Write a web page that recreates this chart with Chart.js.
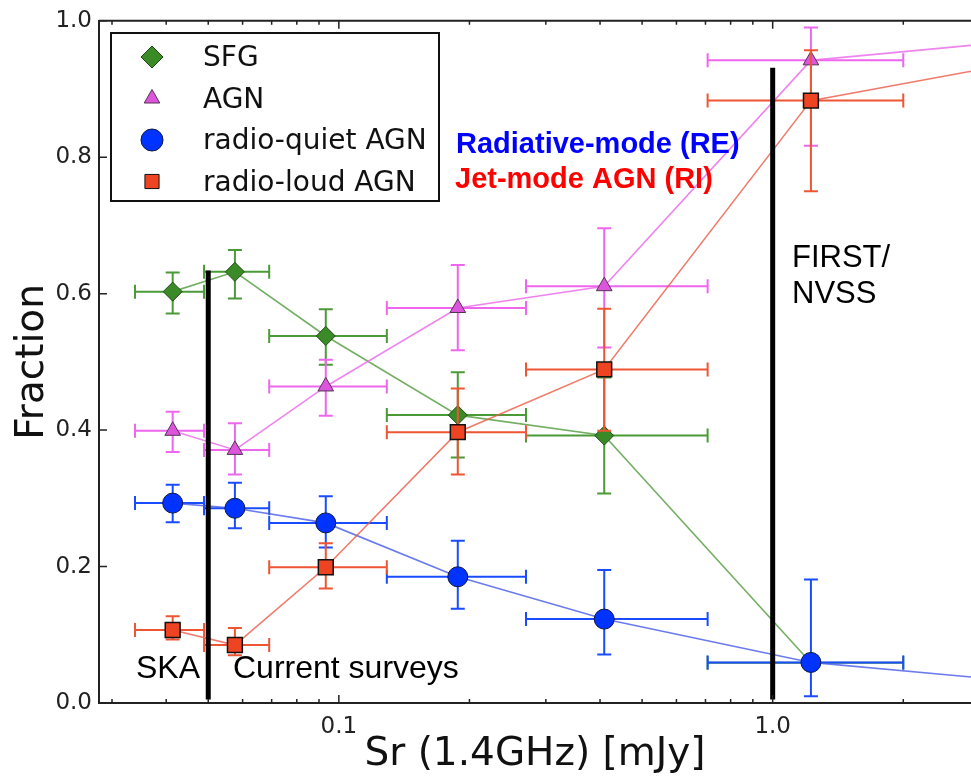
<!DOCTYPE html>
<html>
<head>
<meta charset="utf-8">
<script src="https://cdn.jsdelivr.net/npm/chart.js@4.4.1/dist/chart.umd.min.js"></script>
<style>
  html, body { margin: 0; padding: 0; background: #fff; overflow: hidden; }
  #wrap { width: 971px; height: 776px; }
  canvas { display: block; }
</style>
</head>
<body>
<div id="wrap"><canvas id="chart-fraction" width="971" height="776"></canvas></div>
<script>
// bin centres and bin edges, Sr (1.4GHz) in mJy
const flux = [0.0414, 0.0576, 0.0933, 0.188, 0.409, 1.225]
const binLo = [0.0339, 0.0489, 0.0691, 0.129, 0.270, 0.708]
const binHi = [0.0489, 0.0691, 0.129, 0.270, 0.708, 2.0]
// where the lines leave the visible window on the right
const edgeFlux = 2.865

const sfg = [0.603, 0.632, 0.538, 0.422, 0.392, 0.059]
const sfgLo = [0.571, 0.593, 0.496, 0.360, 0.307, null]
const sfgHi = [0.631, 0.664, 0.577, 0.485, 0.477, null]

const agn = [0.399, 0.371, 0.464, 0.579, 0.611, 0.942]
const agnLo = [0.368, 0.335, 0.421, 0.517, 0.521, 0.817]
const agnHi = [0.427, 0.410, 0.503, 0.642, 0.696, 0.990]
const agnEdge = 0.964

const rq = [0.293, 0.2855, 0.264, 0.185, 0.123, 0.0595]
const rqLo = [0.265, 0.256, 0.228, 0.138, 0.071, 0.010]
const rqHi = [0.320, 0.323, 0.303, 0.238, 0.195, 0.181]
const rqEdge = 0.038

const rl = [0.107, 0.085, 0.199, 0.397, 0.489, 0.883]
const rlLo = [0.093, 0.070, 0.168, 0.335, 0.399, 0.750]
const rlHi = [0.127, 0.110, 0.234, 0.461, 0.578, 0.957]
const rlEdge = 0.926

// survey limits (vertical bars) and how high they reach
const surveyLimits = [0.05, 1.0]
const surveyTops = [0.634, 0.931]

const xTicks = [0.03, 0.04, 0.05, 0.06, 0.07, 0.08, 0.09, 0.1, 0.2, 0.3, 0.4, 0.5, 0.6, 0.7, 0.8, 0.9, 1.0, 2.0]
const xLabelled = [0.1, 1.0]
const yTicks = [0, 0.2, 0.4, 0.6, 0.8, 1.0]

const X_MIN = 0.028
const Y_MIN = 0, Y_MAX = 1.0

function points(vals, edge) {
  const p = flux.map((x, i) => ({ x, y: vals[i] }))
  if (edge != null) p.push({ x: edgeFlux, y: edge })
  return p
}
const hideEdge = r => ctx => ctx.dataIndex < flux.length ? r : 0

const errorBars = {
  id: "errorBars",
  beforeDatasetDraw(chart, args) {
    const ds = chart.data.datasets[args.index]
    if (!ds.errLo) return
    const { ctx, scales: { x, y }, chartArea } = chart
    ctx.save()
    ctx.beginPath()
    ctx.rect(chartArea.left, chartArea.top, chartArea.right - chartArea.left, chartArea.bottom - chartArea.top)
    ctx.clip()
    ctx.strokeStyle = ds.errColor
    ctx.lineWidth = 2
    const cap = 7
    flux.forEach((fx, i) => {
      const px = x.getPixelForValue(fx)
      const py = y.getPixelForValue(ds.values[i])
      const x0 = x.getPixelForValue(binLo[i])
      const x1 = x.getPixelForValue(binHi[i])
      ctx.beginPath()
      ctx.moveTo(x0, py); ctx.lineTo(x1, py)
      ctx.moveTo(x0, py - cap); ctx.lineTo(x0, py + cap)
      ctx.moveTo(x1, py - cap); ctx.lineTo(x1, py + cap)
      if (ds.errLo[i] != null) {
        const y0 = y.getPixelForValue(ds.errLo[i])
        const y1 = y.getPixelForValue(ds.errHi[i])
        ctx.moveTo(px, y0); ctx.lineTo(px, y1)
        ctx.moveTo(px - cap, y0); ctx.lineTo(px + cap, y0)
        ctx.moveTo(px - cap, y1); ctx.lineTo(px + cap, y1)
      }
      ctx.stroke()
    })
    ctx.restore()
  }
}

const frame = {
  id: "frame",
  afterDatasetsDraw(chart) {
    const { ctx, scales: { x, y }, chartArea } = chart
    ctx.save()
    // survey limits
    ctx.strokeStyle = "#000"
    ctx.lineWidth = 5
    surveyLimits.forEach((v, i) => {
      const px = x.getPixelForValue(v)
      ctx.beginPath()
      ctx.moveTo(px, y.getPixelForValue(0.005))
      ctx.lineTo(px, y.getPixelForValue(surveyTops[i]))
      ctx.stroke()
    })
    // top spine and inward ticks
    ctx.strokeStyle = "#222"
    ctx.lineWidth = 2
    ctx.beginPath()
    ctx.moveTo(chartArea.left, chartArea.top)
    ctx.lineTo(chartArea.right, chartArea.top)
    ctx.stroke()
    ctx.lineWidth = 1.5
    ctx.beginPath()
    xTicks.forEach(v => {
      const px = x.getPixelForValue(v)
      const len = xLabelled.includes(v) ? 8 : 4
      ctx.moveTo(px, chartArea.bottom); ctx.lineTo(px, chartArea.bottom - len)
      ctx.moveTo(px, chartArea.top); ctx.lineTo(px, chartArea.top + len)
    })
    yTicks.forEach(v => {
      const py = y.getPixelForValue(v)
      ctx.moveTo(chartArea.left, py); ctx.lineTo(chartArea.left + 8, py)
    })
    ctx.stroke()

    // annotations
    ctx.fillStyle = "#000"
    ctx.textBaseline = "alphabetic"
    ctx.textAlign = "left"
    ctx.font = "32px 'Liberation Sans', Arial, sans-serif"
    ctx.fillText("SKA", 136, 678)
    ctx.fillText("Current surveys", 233, 678)
    ctx.font = "31px 'Liberation Sans', Arial, sans-serif"
    ctx.fillText("FIRST/", 792, 267)
    ctx.fillText("NVSS", 792, 303)
    ctx.font = "bold 29px 'Liberation Sans', Arial, sans-serif"
    ctx.fillStyle = "#0000ff"
    ctx.fillText("Radiative-mode (RE)", 456, 153)
    ctx.fillStyle = "#ff0000"
    ctx.fillText("Jet-mode AGN (RI)", 455, 188)

    // legend box
    ctx.fillStyle = "#fff"
    ctx.fillRect(111, 33, 328, 168)
    ctx.strokeStyle = "#111"
    ctx.lineWidth = 2
    ctx.strokeRect(111, 33, 328, 168)
    ctx.font = "28px 'DejaVu Sans', sans-serif"
    chart.data.datasets.forEach((ds, i) => {
      const cy = 57 + i * 41.5
      ctx.fillStyle = ds.pointBackgroundColor
      ctx.strokeStyle = ds.pointBorderColor
      ctx.lineWidth = 1
      Chart.helpers.drawPoint(ctx, { pointStyle: ds.pointStyle, radius: ds.legendRadius, rotation: 0, borderWidth: 1 }, 152, cy)
      ctx.fillStyle = "#111"
      ctx.fillText(ds.label, 203, cy + 9)
    })
    ctx.restore()
  }
}

new Chart(document.getElementById("chart-fraction"), {
  type: "line",
  data: {
    datasets: [{
      label: "SFG",
      data: points(sfg, null),
      values: sfg, errLo: sfgLo, errHi: sfgHi,
      errColor: "#4a9a38",
      borderColor: "rgba(80,155,60,0.8)",
      borderWidth: 1.6,
      pointStyle: "rectRot",
      pointRadius: hideEdge(9.5),
      legendRadius: 11,
      pointBackgroundColor: "#3a8a28",
      pointBorderColor: "#1d4a14",
      pointBorderWidth: 1,
      order: 4
    }, {
      label: "AGN",
      data: points(agn, agnEdge),
      values: agn, errLo: agnLo, errHi: agnHi,
      errColor: "#ee66ee",
      borderColor: "rgba(235,110,235,0.85)",
      borderWidth: 1.6,
      pointStyle: "triangle",
      pointRadius: hideEdge(9),
      legendRadius: 9,
      pointBackgroundColor: "#dd55dd",
      pointBorderColor: "#553355",
      pointBorderWidth: 1,
      order: 3
    }, {
      label: "radio-quiet AGN",
      data: points(rq, rqEdge),
      values: rq, errLo: rqLo, errHi: rqHi,
      errColor: "#1a4cff",
      borderColor: "rgba(70,90,235,0.8)",
      borderWidth: 1.6,
      pointStyle: "circle",
      pointRadius: hideEdge(10),
      legendRadius: 11,
      pointBackgroundColor: "#0033ff",
      pointBorderColor: "#101840",
      pointBorderWidth: 1,
      order: 2
    }, {
      label: "radio-loud AGN",
      data: points(rl, rlEdge),
      values: rl, errLo: rlLo, errHi: rlHi,
      errColor: "#ee5533",
      borderColor: "rgba(235,90,70,0.8)",
      borderWidth: 1.6,
      pointStyle: "rect",
      pointRadius: hideEdge(10.5),
      legendRadius: 10,
      pointBackgroundColor: "#ee4422",
      pointBorderColor: "#111",
      pointBorderWidth: 1.5,
      order: 1
    }]
  },
  options: {
    responsive: false,
    animation: false,
    devicePixelRatio: 1,
    layout: { autoPadding: false, padding: { top: 20, left: 0, right: 0, bottom: 0 } },
    plugins: { legend: { display: false }, tooltip: { enabled: false } },
    scales: {
      x: {
        type: "logarithmic",
        min: X_MIN,
        max: edgeFlux,
        afterBuildTicks: s => { s.ticks = xTicks.map(v => ({ value: v })) },
        afterFit: s => { s.height = 73 },
        grid: { display: false, drawTicks: false },
        border: { display: true, color: "#222", width: 2 },
        ticks: {
          autoSkip: false,
          maxRotation: 0,
          padding: 10,
          color: "#222",
          font: { family: "'DejaVu Sans', sans-serif", size: 23 },
          callback: v => xLabelled.includes(v) ? v.toFixed(1) : ""
        },
        title: {
          display: true,
          text: "Sr (1.4GHz) [mJy]",
          color: "#111",
          font: { family: "'DejaVu Sans', sans-serif", size: 39, lineHeight: 1 },
          padding: { top: 0, bottom: 2 }
        }
      },
      y: {
        min: Y_MIN,
        max: Y_MAX,
        afterBuildTicks: s => { s.ticks = yTicks.map(v => ({ value: v })) },
        afterFit: s => { s.width = 99 },
        grid: { display: false, drawTicks: false },
        border: { display: true, color: "#222", width: 2 },
        ticks: {
          padding: 7,
          color: "#222",
          font: { family: "'DejaVu Sans', sans-serif", size: 23 },
          callback: v => v.toFixed(1)
        },
        title: {
          display: true,
          text: "Fraction",
          color: "#111",
          font: { family: "'DejaVu Sans', sans-serif", size: 39, lineHeight: 1 },
          padding: { top: 13, bottom: 0 }
        }
      }
    }
  },
  plugins: [errorBars, frame]
})
</script>
</body>
</html>
